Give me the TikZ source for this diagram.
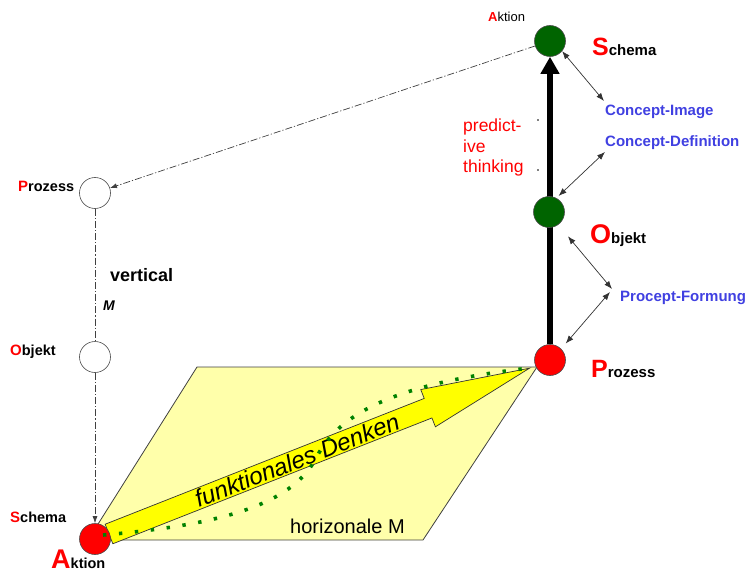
\documentclass[tikz,border=0pt]{standalone}
\usepackage{fontspec}
\setmainfont{Liberation Sans}
\usetikzlibrary{arrows.meta,backgrounds}
\definecolor{pyellow}{RGB}{255,255,170}
\definecolor{ayellow}{RGB}{255,255,0}
\definecolor{dgreen}{RGB}{0,100,0}
\definecolor{dotgreen}{RGB}{0,130,0}
\definecolor{lblue}{RGB}{64,64,225}
\newcommand{\fs}[1]{\fontsize{#1}{#1}\selectfont}
\newcommand{\inilbl}[4]{{\fs{#1}\color{red}#2}{\fs{#3}#4}}
\begin{document}
\begin{tikzpicture}[x=1pt,y=-1pt,
  ball/.style={circle,draw=black!70,line width=0.6pt,minimum size=31pt,inner sep=0pt},
  gball/.style={ball,fill=dgreen},
  rball/.style={ball,fill=red},
  wball/.style={ball,fill=white},
  lbl/.style={anchor=base west,inner sep=0pt,font=\bfseries},
  blbl/.style={anchor=base west,inner sep=0pt,font=\bfseries\fs{15},text=lblue},
  dashdot/.style={draw=black!75,line width=0.7pt,dash pattern=on 7pt off 2pt on 1.2pt off 2pt},
  twoway/.style={draw=black!80,line width=0.7pt,{Latex[length=8pt,width=6pt]}-{Latex[length=8pt,width=6pt]}},
  dots/.style={draw=dotgreen,line width=3.6pt,dash pattern=on 3.4pt off 12.6pt}
]
\useasboundingbox (0,0) rectangle (750,575);

% circles
\node[gball] (gS) at (550,41) {};
\node[gball] (gO) at (549,212) {};
\node[rball] (rP) at (550,360) {};
\node[rball] (rA) at (95,539) {};
\node[wball] (wP) at (95,193) {};
\node[wball] (wO) at (95,357) {};

\begin{scope}[on background layer]
  \draw[fill=pyellow,draw=black!75,line width=0.8pt] (88,540) -- (423,540) -- (537,367) -- (197,367) -- cycle;
  \begin{scope}[shift={(109,534)},rotate=21.52]
    \draw[fill=ayellow,draw=black!80,line width=0.7pt] (0,-10.5) -- (343,-10.5) -- (343,-20) -- (452,0) -- (343,20) -- (343,10.5) -- (0,10.5) -- cycle;
  \end{scope}
  \node[rotate=21.52,font=\itshape\fs{24}] (fd) at (297,460) {funktionales Denken};
  \draw[line width=6pt,-{Triangle[length=17pt,width=18pt]}] (rP) -- (gS);
\end{scope}

% dash-dot connectors
\draw[dashdot,-{Latex[length=7pt,width=5pt]}] (gS) -- (wP);
\draw[dashdot] (wP) -- (wO);
\draw[dashdot,-{Latex[length=7pt,width=5pt]}] (wO) -- (rA);

% dotted curve
\coordinate (d0) at (103,535);
\coordinate (d1) at (315,460);
\coordinate (d2) at (530,368);
\draw[dots] (d0) .. controls (220,525) and (290,505) .. (d1) .. controls (335,420) and (380,385) .. (d2);

% labels
\node[lbl] (lPl) at (18,192) {\inilbl{15}{P}{14.5}{rozess}};
\node[lbl] (lOl) at (10,355) {\inilbl{15}{O}{14.5}{bjekt}};
\node[lbl] (lSl) at (10,522) {\inilbl{15}{S}{14.5}{chema}};
\node[lbl] (lAb) at (51,568) {\inilbl{27}{A}{14.5}{ktion}};
\node[anchor=base west,inner sep=0pt] (lAt) at (488,22) {{\bfseries\fs{13}\color{red}A}{\fs{13}ktion}};
\node[lbl] (lSr) at (592,56) {\inilbl{25}{S}{15}{chema}};
\node[lbl] (lOr) at (590,243) {\inilbl{27}{O}{15}{bjekt}};
\node[lbl] (lPr) at (591,377) {\inilbl{25}{P}{15}{rozess}};

\node[lbl,font=\bfseries\fs{18}] (vert) at (110,281) {vertical};
\node[anchor=base west,inner sep=0pt,font=\bfseries\itshape\fs{14}] (vM) at (103,310) {M};
\node[anchor=base west,inner sep=0pt,font=\fs{20}] (hor) at (290,533) {horizonale M};

\node[anchor=north west,inner sep=0pt,align=left,text=red,font=\fs{17.5}] (pt) at (463,119)
  {predict-\\[3pt]ive\\[3pt]thinking};
\fill (538,120) circle (0.9pt) (538,170) circle (0.9pt);

% blue labels
\node[blbl] (ci) at (605,116) {Concept-Image};
\node[blbl] (cd) at (605,147) {Concept-Definition};
\node[blbl] (pf) at (620,301) {Procept-Formung};

% two-way arrows
\coordinate (e1) at (604,101);
\coordinate (e2) at (605,152);
\coordinate (e3) at (612,289);
\coordinate (e4) at (610,292);
\draw[twoway] (gS.-40) -- (e1);
\draw[twoway,shorten <=3pt] (gO.62) -- (e2);
\draw[twoway,shorten <=15pt] (gO.-54) -- (e3);
\draw[twoway,shorten <=7pt] (rP.45) -- (e4);
\end{tikzpicture}
\end{document}
